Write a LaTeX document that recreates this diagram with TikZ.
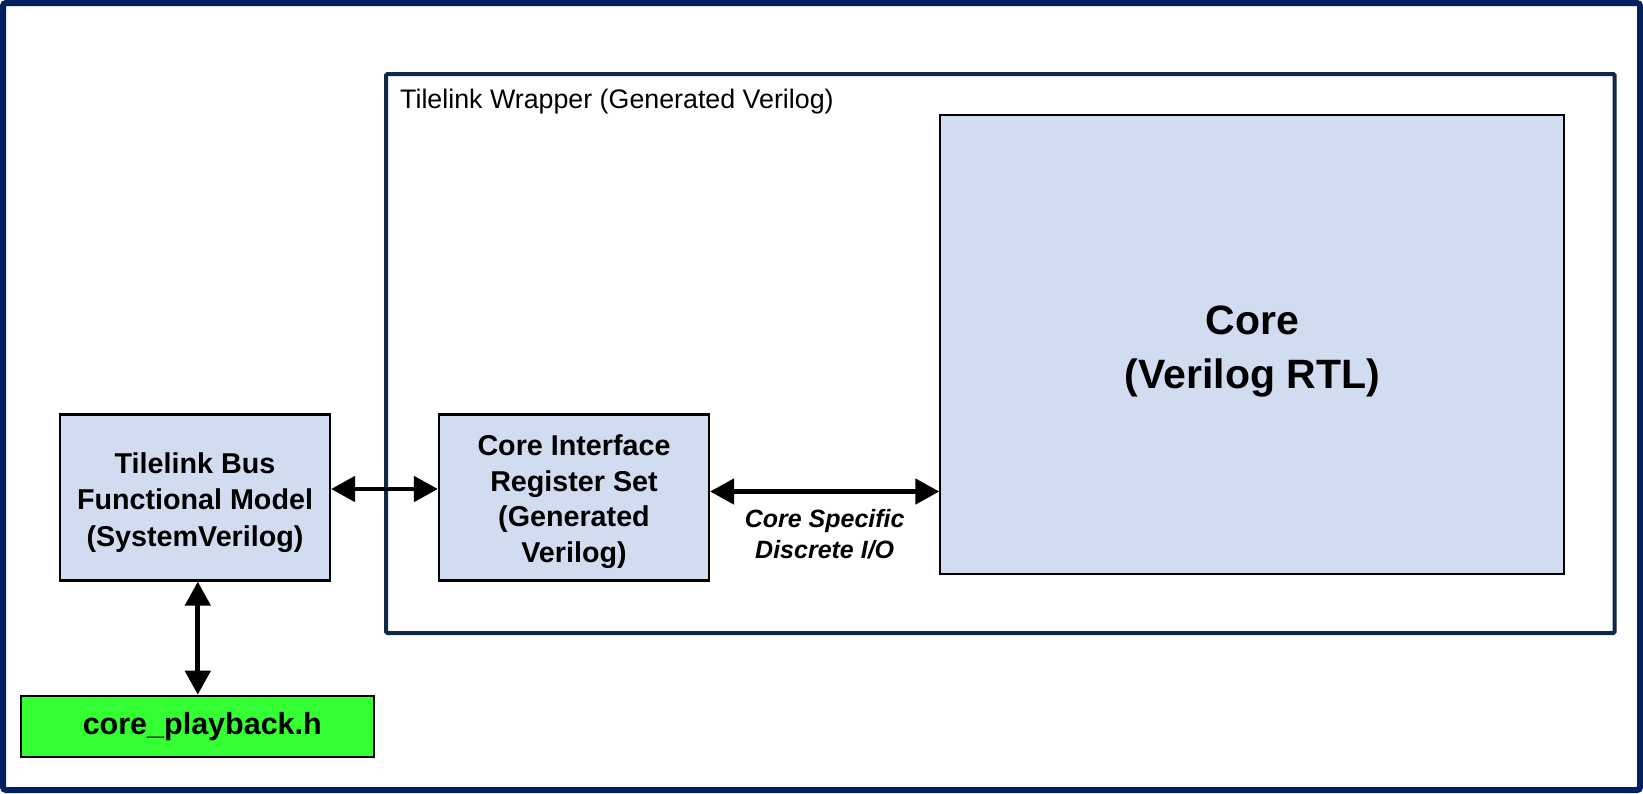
\documentclass[tikz,border=0pt]{standalone}
\usepackage{fontspec}
\setmainfont{Liberation Sans}
\usetikzlibrary{arrows.meta,calc}
\definecolor{outerblue}{RGB}{0,32,96}
\definecolor{wrapblue}{RGB}{14,40,72}
\definecolor{boxfill}{RGB}{210,220,241}
\definecolor{pbgreen}{RGB}{51,255,51}
\begin{document}
\begin{tikzpicture}[x=1pt,y=-1pt,
  blockbox/.style={draw=black,line width=2.2pt,fill=boxfill,inner sep=0pt},
  blocktext/.style={align=center,font=\bfseries\fontsize{28.7}{36.5}\selectfont,inner sep=0pt},
  dblarrow/.style={line width=4.8pt,{Triangle[length=24pt,width=25pt]}-{Triangle[length=24pt,width=25pt]}}]
\useasboundingbox (0,0) rectangle (1643,793);
\fill[white] (0,0) rectangle (1643,793);
% outer frame
\node[draw=outerblue,line width=6pt,rounded corners=3pt,minimum width=1637pt,minimum height=787pt,inner sep=0pt] (frame) at (821.5,396.5) {};
% wrapper
\node[draw=wrapblue,line width=4pt,rounded corners=1.5pt,minimum width=1228.7pt,minimum height=559pt,inner sep=0pt] (wrap) at (1000.35,353.5) {};
\node[anchor=base west,inner sep=0pt,font=\fontsize{26.8}{30}\selectfont] (wraplbl) at (400,108.7) {Tilelink Wrapper (Generated Verilog)};
% core
\node[blockbox,line width=2pt,minimum width=624pt,minimum height=459pt] (core) at (1252.3,344.5) {};
\node[blocktext,font=\bfseries\fontsize{41}{53.5}\selectfont] (coretxt) at ([yshift=-7pt]core.center) {Core\\(Verilog RTL)};
% BFM
\node[blockbox,minimum width=270pt,minimum height=166pt] (bfm) at (195,497.5) {};
\node[blocktext] (bfmtxt) at ([yshift=-5pt]bfm.center) {Tilelink Bus\\Functional Model\\(SystemVerilog)};
% CIRS
\node[blockbox,minimum width=270pt,minimum height=166pt] (cirs) at (574,497.5) {};
\node[blocktext,font=\bfseries\fontsize{28.7}{35.5}\selectfont] (cirstxt) at ([yshift=-4pt]cirs.center) {Core Interface\\Register Set\\(Generated\\Verilog)};
% playback
\node[blockbox,fill=pbgreen,minimum width=353pt,minimum height=61pt,font=\bfseries\fontsize{30.5}{36}\selectfont] (play) at (197.8,726.3) {\hspace*{9pt}core\_playback.h};
% arrows
\draw[dblarrow] ([yshift=8.5pt]bfm.east) -- ([yshift=8.5pt]cirs.west);
\draw[dblarrow] ([yshift=6pt]cirs.east) -- ([yshift=6pt]cirs.east -| core.west);
\draw[dblarrow] (play.north |- bfm.south) -- (play.north);
\node[font=\bfseries\itshape\fontsize{25}{30.3}\selectfont,align=center,inner sep=0pt] (iolbl) at (824.7,534.2) {Core Specific\\Discrete I/O};
\end{tikzpicture}
\end{document}
